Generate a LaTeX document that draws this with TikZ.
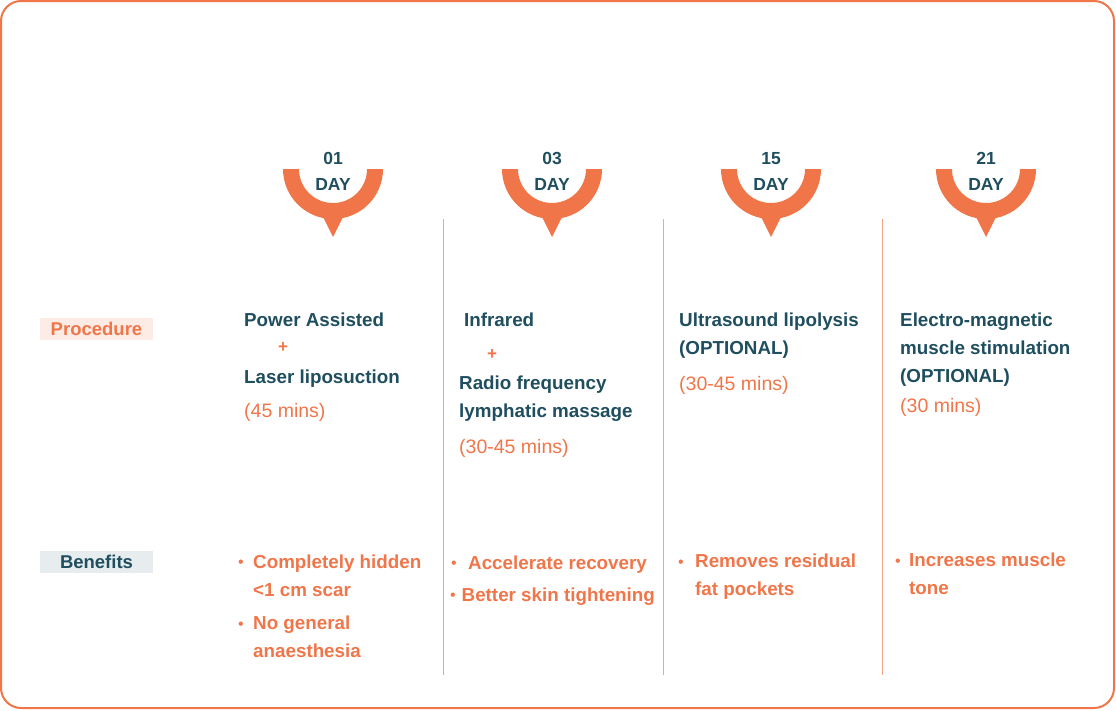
\documentclass[tikz,border=0pt]{standalone}
\usepackage{fontspec}
\setmainfont{Liberation Sans}
\usepackage{xcolor}
\usepackage{tikz}
\usetikzlibrary{positioning}
\definecolor{dxteal}{HTML}{1F4E5F}
\definecolor{dxorange}{HTML}{F0764A}
\definecolor{dxline}{HTML}{F3A687}
\definecolor{dxpink}{HTML}{FDECE6}
\definecolor{dxgray}{HTML}{E7EDEF}
\tikzset{
    % Day number inside the marker
    daynum/.style={
        anchor=base,
        inner sep=0pt,
        text=dxteal,
        font=\fontsize{17.5}{20}\selectfont\bfseries
    },
    % Row label box
    rowlabel/.style={
        rectangle,
        fill=#1,
        minimum width=113pt,
        minimum height=22pt,
        inner sep=0pt,
        font=\fontsize{18.5}{20}\selectfont\bfseries
    },
    rowlabel/.default=dxpink,
    % Procedure title (anchored at the baseline of its last line)
    steptitle/.style={
        anchor=base west,
        inner sep=0pt,
        align=left,
        text=dxteal,
        font=\fontsize{18.8}{28}\selectfont\bfseries
    },
    % Plus sign between procedures
    stepplus/.style={
        inner sep=0pt,
        text=dxorange,
        font=\fontsize{17}{18}\selectfont\bfseries
    },
    % Duration
    steptime/.style={
        anchor=base west,
        inner sep=0pt,
        text=dxorange,
        font=\fontsize{19.5}{28}\selectfont
    },
    % Benefit text (anchored at the baseline of its last line)
    benefititem/.style={
        anchor=base west,
        inner sep=0pt,
        align=left,
        text=dxorange,
        font=\fontsize{18.8}{28}\selectfont\bfseries
    },
    % Bullet dot
    benefitdot/.style={
        anchor=base,
        inner sep=0pt,
        text=dxorange,
        font=\fontsize{16}{18}\selectfont
    }
}
\begin{document}
\begin{tikzpicture}[x=1pt,y=-1pt]
    \useasboundingbox (0,0) rectangle (1116,710);
    % outer frame
    \draw[dxorange, line width=2pt, rounded corners=20pt] (1,1) rectangle (1114,708);

    % day markers
    \foreach \cx/\num/\nm in {333/01/d1, 552/03/d3, 771/15/d15, 986/21/d21}{
        \coordinate (\nm) at (\cx,169);
        \fill[dxorange] (\nm) ++(-50,0) arc[start angle=180, end angle=0, radius=50]
            -- ++(-16,0) arc[start angle=0, end angle=180, radius=34] -- cycle;
        \fill[dxorange] (\nm) ++(-12,44) -- ++(24,0) -- ++(-12,24) -- cycle;
        \node[daynum] (\nm-num) at (\cx,164) {\num};
        \node[daynum] (\nm-day) at (\cx,190) {DAY};
    }

    % column dividers
    \foreach \lx in {443,663,882}
        \draw[dxline, line width=1pt] (\lx,219) -- (\lx,675);

    % row labels
    \node[rowlabel=dxpink, text=dxorange] (proc) at (96.5,329) {Procedure};
    \node[rowlabel=dxgray, text=dxteal] (bene) at (96.5,562) {Benefits};

    % procedures
    \node[steptitle] (p1-a) at (244,326) {Power Assisted};
    \node[stepplus] (p1-plus) at (283,348) {+};
    \node[steptitle] (p1-b) at (244,383) {Laser liposuction};
    \node[steptime] (p1-time) at (244,417) {(45 mins)};

    \node[steptitle] (p2-a) at (464,326) {Infrared};
    \node[stepplus] (p2-plus) at (492,355) {+};
    \node[steptitle] (p2-b) at (459,417) {Radio frequency\\lymphatic massage};
    \node[steptime] (p2-time) at (459,453) {(30-45 mins)};

    \node[steptitle] (p3-a) at (679,354) {Ultrasound lipolysis\\(OPTIONAL)};
    \node[steptime] (p3-time) at (679,390) {(30-45 mins)};

    \node[steptitle] (p4-a) at (900,382) {Electro-magnetic\\muscle stimulation\\(OPTIONAL)};
    \node[steptime] (p4-time) at (900,412) {(30 mins)};

    % benefits
    \node[benefitdot] (b1-dot1) at (241,567) {•};
    \node[benefititem] (b1-a) at (253,596) {Completely hidden\\<1 cm scar};
    \node[benefitdot] (b1-dot2) at (241,629) {•};
    \node[benefititem] (b1-b) at (253,657) {No general\\anaesthesia};

    \node[benefitdot] (b2-dot1) at (454,568) {•};
    \node[benefititem] (b2-a) at (468,569) {Accelerate recovery};
    \node[benefitdot] (b2-dot2) at (453,600) {•};
    \node[benefititem] (b2-b) at (461.5,601) {Better skin tightening};

    \node[benefitdot] (b3-dot1) at (681,567) {•};
    \node[benefititem] (b3-a) at (695,595) {Removes residual\\fat pockets};

    \node[benefitdot] (b4-dot1) at (898,566) {•};
    \node[benefititem] (b4-a) at (909,594) {Increases muscle\\tone};
\end{tikzpicture}
\end{document}
